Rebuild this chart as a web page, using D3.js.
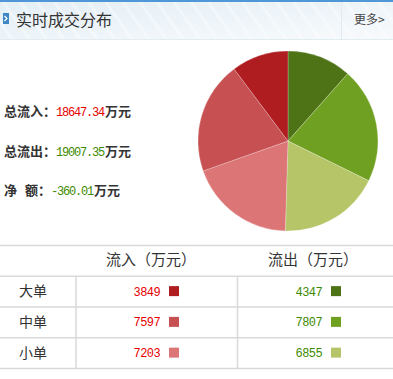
<!DOCTYPE html>
<html lang="zh">
<head>
<meta charset="UTF-8">
<title>实时成交分布</title>
<style>
  body { margin: 0; background: #fff; }
  svg { display: block; font-family: "Noto Sans CJK SC", "DejaVu Sans", sans-serif; }
  .mono { font-family: "Liberation Mono", "DejaVu Sans Mono", monospace; }
</style>
</head>
<body>
<svg id="chart"></svg>
<script src="https://d3js.org/d3.v7.min.js"></script>
<script>
// data
const categories = ['大单', '中单', '小单'];
const inflow = [3849, 7597, 7203];
const outflow = [4347, 7807, 6855];
const summaryLabels = ['总流入：', '总流出：', '净 额：'];
const summaryValues = ['18647.34', '19007.35', '-360.01'];
const columnTitles = ['流入（万元）', '流出（万元）'];

const redColors = ['#af1d21', '#c75053', '#dc7576'];
const greenColors = ['#4e7216', '#70a022', '#b6c567'];

const W = 393, H = 379;
const svg = d3.select('#chart').attr('width', W).attr('height', H);

// header
const defs = svg.append('defs');
const grad = defs.append('linearGradient').attr('id', 'hd').attr('x1', 0).attr('y1', 0).attr('x2', 1).attr('y2', 1);
grad.append('stop').attr('offset', '0%').attr('stop-color', '#e3eef6');
grad.append('stop').attr('offset', '100%').attr('stop-color', '#f7fafc');
const pat = defs.append('pattern').attr('id', 'stripe').attr('width', 14).attr('height', 14)
  .attr('patternUnits', 'userSpaceOnUse').attr('patternTransform', 'rotate(-35)');
pat.append('rect').attr('width', 3).attr('height', 14).attr('fill', '#ffffff').attr('opacity', 0.35);

svg.append('rect').attr('x', 0).attr('y', 0).attr('width', W).attr('height', 39).attr('fill', 'url(#hd)');
svg.append('rect').attr('x', 0).attr('y', 0).attr('width', W).attr('height', 39).attr('fill', 'url(#stripe)');
svg.append('rect').attr('x', 0).attr('y', 0).attr('width', W).attr('height', 2).attr('fill', '#4f97d6');
svg.append('line').attr('x1', 0).attr('x2', W).attr('y1', 39.5).attr('y2', 39.5).attr('stroke', '#e2ecf3');
svg.append('line').attr('x1', 341.5).attr('x2', 341.5).attr('y1', 2).attr('y2', 39).attr('stroke', '#e4ebf0');

// icon
svg.append('rect').attr('x', 3).attr('y', 13).attr('width', 6).attr('height', 11).attr('fill', '#3f86c4');
svg.append('path').attr('d', 'M4.5,16 L7,18.5 L4.5,21').attr('fill', 'none').attr('stroke', '#fff').attr('stroke-width', 1.2);

svg.append('text').attr('x', 16).attr('y', 26).attr('font-size', 16).attr('fill', '#333').text('实时成交分布');
svg.append('text').attr('x', 354).attr('y', 24).attr('font-size', 12).attr('fill', '#444').text('更多>');

// summary
const sumG = svg.append('g').attr('font-size', 13).attr('font-weight', 'bold');
summaryLabels.forEach((lab, i) => {
  const y = 116 + i * 39.5;
  const t = sumG.append('text').attr('x', 4).attr('y', y).attr('fill', '#333').attr('xml:space', 'preserve');
  if (i === 2) {
    t.append('tspan').text('净');
    t.append('tspan').attr('dx', 8).text('额：');
  } else {
    t.append('tspan').text(lab);
  }
  t.append('tspan').attr('class', 'mono').attr('font-weight', 'normal').attr('font-size', 12)
    .attr('letter-spacing', -1.2)
    .attr('fill', i === 0 ? '#e60000' : '#3d8a00').text(summaryValues[i]);
  t.append('tspan').attr('dx', 1).text('万元');
});

// pie: outflow big->small then inflow small->big, clockwise from top
const slices = [
  ...outflow.map((v, i) => ({ value: v, color: greenColors[i] })),
  ...inflow.map((v, i) => ({ value: v, color: redColors[i] })).reverse()
];
const pie = d3.pie().sort(null).value(d => d.value);
const arc = d3.arc().innerRadius(0).outerRadius(90);
svg.append('g').attr('transform', 'translate(288,141)')
  .selectAll('path').data(pie(slices)).join('path')
  .attr('d', arc).attr('fill', d => d.data.color)
  .attr('stroke', '#ffffff').attr('stroke-opacity', 0.4).attr('stroke-width', 0.6);

// table
const rowY = d3.scaleBand().domain(['head', ...categories]).range([245, 368]);
const colX = [0, 76, 237.5, W];
const tbl = svg.append('g');
rowY.domain().forEach(k => {
  tbl.append('line').attr('x1', 0).attr('x2', W).attr('y1', rowY(k) + 0.5).attr('y2', rowY(k) + 0.5).attr('stroke', '#d9d9d9').attr('stroke-width', 1.5);
});
tbl.append('line').attr('x1', 0).attr('x2', W).attr('y1', 368.5).attr('y2', 368.5).attr('stroke', '#d9d9d9').attr('stroke-width', 1.5);
[colX[1], colX[2]].forEach(x => {
  tbl.append('line').attr('x1', x).attr('x2', x).attr('y1', rowY(categories[0])).attr('y2', 368).attr('stroke', '#d9d9d9').attr('stroke-width', 1.5);
});

const hc = rowY('head') + rowY.bandwidth() / 2;
columnTitles.forEach((t, i) => {
  tbl.append('text').attr('x', [151, 313][i]).attr('y', hc + 5).attr('text-anchor', 'middle')
    .attr('font-size', 15).attr('fill', '#333').text(t);
});

categories.forEach((c, i) => {
  const cy = rowY(c) + rowY.bandwidth() / 2;
  tbl.append('text').attr('x', 33).attr('y', cy + 5).attr('text-anchor', 'middle')
    .attr('font-size', 14).attr('fill', '#333').text(c);
  // inflow
  tbl.append('text').attr('class', 'mono').attr('x', 160).attr('y', cy + 4.5).attr('text-anchor', 'end')
    .attr('font-size', 12).attr('letter-spacing', -0.6).attr('fill', '#e60000').text(inflow[i]);
  tbl.append('rect').attr('x', 169).attr('y', cy - 5).attr('width', 10).attr('height', 10).attr('fill', redColors[i]);
  // outflow
  tbl.append('text').attr('class', 'mono').attr('x', 322).attr('y', cy + 4.5).attr('text-anchor', 'end')
    .attr('font-size', 12).attr('letter-spacing', -0.6).attr('fill', '#3d8a00').text(outflow[i]);
  tbl.append('rect').attr('x', 331).attr('y', cy - 5).attr('width', 10).attr('height', 10).attr('fill', greenColors[i]);
});
</script>
</body>
</html>
